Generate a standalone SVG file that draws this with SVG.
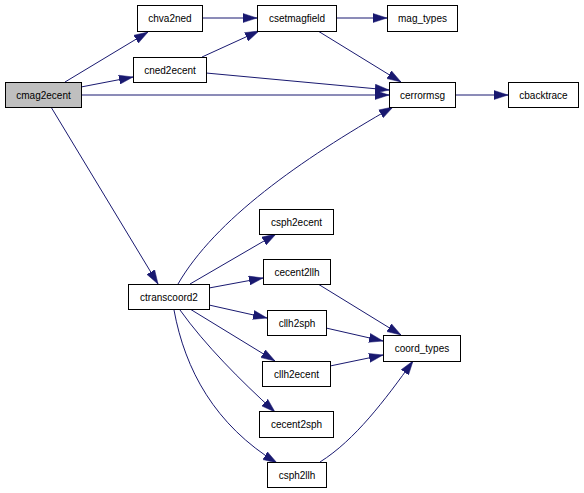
<svg xmlns="http://www.w3.org/2000/svg" width="584" height="493" viewBox="0 0 584 493">
<style>
.n rect{fill:#ffffff;stroke:#000000;stroke-width:1}
.n.root rect{fill:#bfbfbf}
.n text{font-family:"Liberation Sans",Arial,sans-serif;font-size:10px;text-anchor:middle;fill:#000000}
#edges path{fill:none;stroke:#191970;stroke-width:1;marker-end:url(#ah)}
</style>
<defs>
<marker id="ah" viewBox="0 0 14 10" refX="14" refY="5" markerWidth="14" markerHeight="10" markerUnits="userSpaceOnUse" orient="auto">
<path d="M0,0.5 L14,5 L0,9.5 Z" fill="#191970" stroke="#191970" stroke-width="0.5"/>
</marker>
</defs>
<rect width="584" height="493" fill="#ffffff"/>
<g id="edges">
<path d="M65,82 L148,32"/>
<path d="M81,87 L133,77"/>
<path d="M81,95 L389,95"/>
<path d="M51,107 L158,284"/>
<path d="M202,18 L257,18"/>
<path d="M202,57 L259,31"/>
<path d="M206,73 L389,90"/>
<path d="M336,18 L387,18"/>
<path d="M318,31 L401,82"/>
<path d="M455,95 L508,95"/>
<path d="M178,284 C215,220 300,160 393,107"/>
<path d="M190,284 L276,234"/>
<path d="M209,288 L263,278"/>
<path d="M209,305 L267,318"/>
<path d="M190,309 L275,361"/>
<path d="M180,310 C205,345 240,380 275,412"/>
<path d="M174,310 C185,370 215,425 277,463"/>
<path d="M318,284 L401,335"/>
<path d="M326,328 L383,341"/>
<path d="M330,366 L383,355"/>
<path d="M320,462 C355,440 385,400 413,361"/>
</g>
<g id="cmag2ecent" class="n root"><rect x="5.5" y="82.5" width="76" height="25"/><text x="43.5" y="98.5">cmag2ecent</text></g>
<g id="chva2ned" class="n"><rect x="137.5" y="5.5" width="65" height="26"/><text x="170" y="22">chva2ned</text></g>
<g id="cned2ecent" class="n"><rect x="133.5" y="57.5" width="73" height="25"/><text x="170" y="73.5">cned2ecent</text></g>
<g id="csetmagfield" class="n"><rect x="257.5" y="5.5" width="79" height="26"/><text x="297" y="22">csetmagfield</text></g>
<g id="mag_types" class="n"><rect x="387.5" y="5.5" width="70" height="26"/><text x="422.5" y="22">mag_types</text></g>
<g id="cerrormsg" class="n"><rect x="389.5" y="82.5" width="66" height="25"/><text x="422.5" y="98.5">cerrormsg</text></g>
<g id="cbacktrace" class="n"><rect x="508.5" y="82.5" width="70" height="25"/><text x="543.5" y="98.5">cbacktrace</text></g>
<g id="ctranscoord2" class="n"><rect x="128.5" y="284.5" width="81" height="25"/><text x="169" y="300.5">ctranscoord2</text></g>
<g id="csph2ecent" class="n"><rect x="259.5" y="209.5" width="74" height="25"/><text x="296.5" y="225.5">csph2ecent</text></g>
<g id="cecent2llh" class="n"><rect x="263.5" y="259.5" width="67" height="25"/><text x="297" y="275.5">cecent2llh</text></g>
<g id="cllh2sph" class="n"><rect x="267.5" y="310.5" width="59" height="25"/><text x="297" y="326.5">cllh2sph</text></g>
<g id="coord_types" class="n"><rect x="383.5" y="335.5" width="77" height="26"/><text x="422" y="352">coord_types</text></g>
<g id="cllh2ecent" class="n"><rect x="262.5" y="361.5" width="68" height="25"/><text x="296.5" y="377.5">cllh2ecent</text></g>
<g id="cecent2sph" class="n"><rect x="259.5" y="411.5" width="74" height="26"/><text x="296.5" y="428">cecent2sph</text></g>
<g id="csph2llh" class="n"><rect x="267.5" y="462.5" width="59" height="25"/><text x="297" y="478.5">csph2llh</text></g>
</svg>
